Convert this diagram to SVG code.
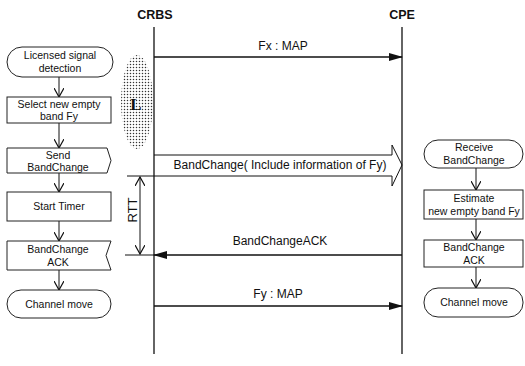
<svg xmlns="http://www.w3.org/2000/svg" width="525" height="366" viewBox="0 0 525 366">
<style>
.t{font-family:"Liberation Sans",Arial,sans-serif;fill:#111;text-anchor:middle}
.bx{font-size:10.5px}
.msg{font-size:12px}
.hd{font-size:12.5px;font-weight:bold}
.sh{fill:#fff;stroke:#222;stroke-width:1}
.ln{stroke:#111;stroke-width:1.3;fill:none}
.fl{stroke:#111;stroke-width:1;fill:none}
</style>
<defs>
<pattern id="dots" width="3" height="3" patternUnits="userSpaceOnUse">
<circle cx="1.5" cy="1.5" r="0.75" fill="#333"/>
</pattern>
<marker id="fa" markerWidth="14" markerHeight="8" refX="13" refY="4" orient="auto" markerUnits="userSpaceOnUse">
<path d="M0,0 L14,4 L0,8 Z" fill="#111"/>
</marker>
<marker id="ov" markerWidth="10" markerHeight="10" refX="9" refY="5" orient="auto-start-reverse" markerUnits="userSpaceOnUse">
<path d="M0,0 L9,5 L0,10" fill="none" stroke="#111" stroke-width="1.2"/>
</marker>
</defs>

<g id="lifelines">
<text class="t hd" x="155" y="19">CRBS</text>
<text class="t hd" x="402" y="19">CPE</text>
<line class="ln" x1="154" y1="27" x2="154" y2="354"/>
<line class="ln" x1="402" y1="27" x2="402" y2="354"/>
</g>

<g id="licensed-region">
<ellipse cx="137" cy="102" rx="16" ry="47" fill="url(#dots)"/>
<text x="136" y="110" font-family="Liberation Serif,serif" font-size="17" font-weight="bold" text-anchor="middle" fill="#111">L</text>
</g>

<g id="connectors">
<line class="ln" x1="154" y1="57" x2="402" y2="57" marker-end="url(#fa)"/>
<text class="t msg" x="283" y="50">Fx : MAP</text>
<path class="fl" d="M154,155 H392 V145 L402,165 L392,186 V176 H154" stroke-width="1.2"/>
<text class="t msg" x="280" y="169">BandChange( Include information of Fy)</text>
<line class="ln" x1="402" y1="255" x2="154" y2="255" marker-end="url(#fa)"/>
<text class="t msg" x="280" y="245">BandChangeACK</text>
<line class="ln" x1="154" y1="306" x2="402" y2="306" marker-end="url(#fa)"/>
<text class="t msg" x="278" y="298">Fy : MAP</text>
<line class="fl" x1="127" y1="176" x2="154" y2="176"/>
<line class="fl" x1="125" y1="255" x2="154" y2="255"/>
<line class="fl" x1="140" y1="177" x2="140" y2="254" marker-start="url(#ov)" marker-end="url(#ov)"/>
<text class="t" font-size="13" transform="translate(137,210) rotate(-90)">RTT</text>
<line class="fl" x1="59" y1="77" x2="59" y2="97" marker-end="url(#ov)"/>
<line class="fl" x1="59" y1="123" x2="59" y2="148" marker-end="url(#ov)"/>
<line class="fl" x1="59" y1="173" x2="59" y2="192" marker-end="url(#ov)"/>
<line class="fl" x1="59" y1="221" x2="59" y2="241" marker-end="url(#ov)"/>
<line class="fl" x1="59" y1="270" x2="59" y2="290" marker-end="url(#ov)"/>
<line class="fl" x1="476" y1="168" x2="476" y2="190" marker-end="url(#ov)"/>
<line class="fl" x1="476" y1="219" x2="476" y2="240" marker-end="url(#ov)"/>
<line class="fl" x1="476" y1="267" x2="476" y2="288" marker-end="url(#ov)"/>
</g>

<g id="licensed-detection">
<rect class="sh" x="7" y="47" width="106" height="30" rx="15"/>
<text class="t bx" x="60" y="59">Licensed signal</text>
<text class="t bx" x="60" y="72">detection</text>
</g>
<g id="select-band">
<rect class="sh" x="7" y="97" width="104" height="26"/>
<text class="t bx" x="59" y="108">Select new empty</text>
<text class="t bx" x="59" y="120">band Fy</text>
</g>
<g id="send-bandchange">
<path class="sh" d="M7,148 H107 L111,160.5 L107,173 H7 Z"/>
<text class="t bx" x="58" y="159">Send</text>
<text class="t bx" x="58" y="171">BandChange</text>
</g>
<g id="start-timer">
<rect class="sh" x="7" y="192" width="104" height="29"/>
<text class="t bx" x="59" y="210">Start Timer</text>
</g>
<g id="bandchange-ack-left">
<path class="sh" d="M7,241 H111 L106,255.5 L111,270 H7 Z"/>
<text class="t bx" x="58" y="253">BandChange</text>
<text class="t bx" x="58" y="266">ACK</text>
</g>
<g id="channel-move-left">
<rect class="sh" x="7" y="290" width="104" height="28" rx="14"/>
<text class="t bx" x="59" y="308">Channel move</text>
</g>

<g id="receive-bandchange">
<rect class="sh" x="424" y="140" width="99" height="28" rx="14"/>
<text class="t bx" x="474" y="151">Receive</text>
<text class="t bx" x="474" y="164">BandChange</text>
</g>
<g id="estimate-band">
<rect class="sh" x="424" y="190" width="99" height="29"/>
<text class="t bx" x="474" y="202">Estimate</text>
<text class="t bx" x="474" y="215">new empty band Fy</text>
</g>
<g id="bandchange-ack-right">
<rect class="sh" x="424" y="240" width="99" height="27"/>
<text class="t bx" x="474" y="251">BandChange</text>
<text class="t bx" x="474" y="264">ACK</text>
</g>
<g id="channel-move-right">
<rect class="sh" x="424" y="288" width="99" height="29" rx="14"/>
<text class="t bx" x="474" y="306">Channel move</text>
</g>
</svg>
